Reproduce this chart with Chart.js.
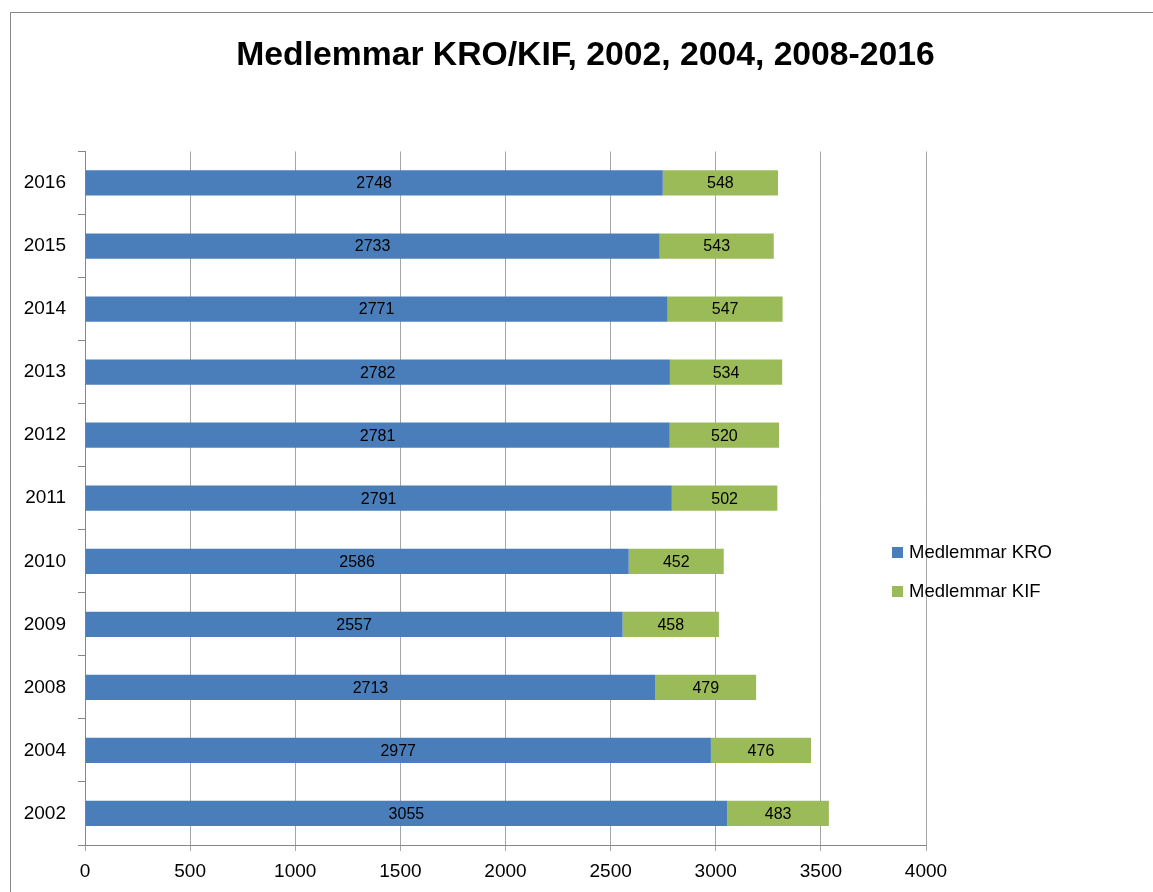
<!DOCTYPE html>
<html>
<head>
<meta charset="utf-8">
<script src="https://cdn.jsdelivr.net/npm/chart.js@4"></script>
<style>
  html, body { margin: 0; padding: 0; background: #fff; overflow: hidden; }
  #wrap { position: relative; width: 1153px; height: 892px; }
  #frame { position: absolute; left: 10px; top: 12px; width: 1300px; height: 1000px;
           border-left: 1px solid #868686; border-top: 1px solid #868686; }
  #c { position: absolute; left: 0; top: 0; }
  .leg { position: absolute; left: 892px; font: 18.5px "Liberation Sans", Arial, sans-serif; color: #000; line-height: 20px; white-space: nowrap; }
  .leg span.sw { display: inline-block; width: 11px; height: 11px; margin-right: 6px; vertical-align: 0px; }
</style>
</head>
<body>
<div id="wrap">
  <div id="frame"></div>
  <canvas id="c" width="1153" height="892"></canvas>
  <div class="leg" id="leg1" style="top:542px"><span class="sw" style="background:#4a7ebb"></span>Medlemmar KRO</div>
  <div class="leg" id="leg2" style="top:581px"><span class="sw" style="background:#9bbb59"></span>Medlemmar KIF</div>
</div>
<script>
const titleText = 'Medlemmar KRO/KIF, 2002, 2004, 2008-2016';
const years = ['2016','2015','2014','2013','2012','2011','2010','2009','2008','2004','2002'];
const kro = [2748, 2733, 2771, 2782, 2781, 2791, 2586, 2557, 2713, 2977, 3055];
const kif = [548, 543, 547, 534, 520, 502, 452, 458, 479, 476, 483];
const seriesNames = ['Medlemmar KRO', 'Medlemmar KIF'];
const xTicks = [0, 500, 1000, 1500, 2000, 2500, 3000, 3500, 4000];

const FONT = '"Liberation Sans", Arial, sans-serif';

const valueLabels = {
  id: 'valueLabels',
  afterDatasetsDraw(chart) {
    const ctx = chart.ctx;
    ctx.save();
    ctx.font = '16px ' + FONT;
    ctx.fillStyle = '#000';
    ctx.textAlign = 'center';
    ctx.textBaseline = 'middle';
    chart.data.datasets.forEach((ds, di) => {
      const meta = chart.getDatasetMeta(di);
      meta.data.forEach((el, i) => {
        const p = el.getCenterPoint();
        ctx.fillText(String(ds.data[i]), p.x, p.y + 1);
      });
    });
    ctx.restore();
  }
};

// reserves the legend column on the right of the plot, so the title stays centred on the chart frame
const rightSpace = {
  id: 'rightSpace',
  start(chart) {
    const box = {
      position: 'right', weight: 100, fullSize: false, options: {},
      width: 0, height: 0, left: 0, top: 0, right: 0, bottom: 0,
      isHorizontal() { return false; },
      update(maxWidth, maxHeight) { this.width = 227; this.height = maxHeight; },
      draw() {}
    };
    Chart.layouts.addBox(chart, box);
  }
};

new Chart(document.getElementById('c'), {
  type: 'bar',
  data: {
    labels: years,
    datasets: [
      { label: seriesNames[0], data: kro, backgroundColor: '#4a7ebb', borderWidth: 0,
        barPercentage: 0.4, categoryPercentage: 1.0 },
      { label: seriesNames[1], data: kif, backgroundColor: '#9bbb59', borderWidth: 0,
        barPercentage: 0.4, categoryPercentage: 1.0 }
    ]
  },
  options: {
    indexAxis: 'y',
    responsive: false,
    animation: false,
    layout: { padding: { left: 18, right: 0, top: 0, bottom: 0 } },
    plugins: {
      legend: { display: false },
      tooltip: { enabled: false },
      title: {
        display: true,
        text: titleText,
        color: '#000',
        font: { family: FONT, size: 33.7, weight: 'bold' },
        padding: { top: 35, bottom: 76 }
      }
    },
    scales: {
      x: {
        stacked: true,
        min: 0, max: 4000,
        afterBuildTicks(scale) { scale.ticks = xTicks.map(v => ({ value: v })); },
        afterFit(scale) { scale.height = 47; },
        grid: { color: '#a6a6a6', lineWidth: 1, tickLength: 6, drawTicks: true },
        border: { display: true, color: '#868686', width: 1 },
        ticks: { color: '#000', font: { family: FONT, size: 19 }, padding: 9, maxRotation: 0,
                 callback: (v) => String(v) }
      },
      y: {
        stacked: true,
        afterFit(scale) { scale.width = 67; },
        grid: { display: true, drawOnChartArea: false, offset: true, tickLength: 7, color: '#868686' },
        border: { display: true, color: '#868686', width: 1 },
        ticks: { color: '#000', font: { family: FONT, size: 19 }, padding: 12 }
      }
    }
  },
  plugins: [valueLabels, rightSpace]
});
</script>
</body>
</html>
